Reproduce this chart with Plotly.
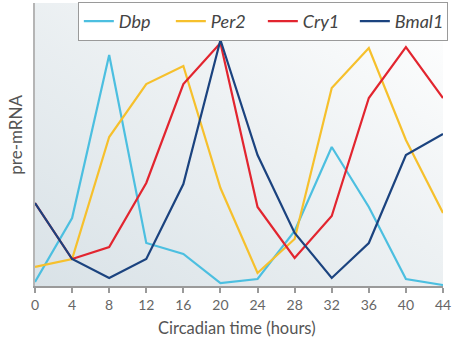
import plotly.graph_objects as go
import base64

hours = [0, 4, 8, 12, 16, 20, 24, 28, 32, 36, 40, 44]
tick_labels = [str(h) for h in hours]

dbp   = [4, 68, 231, 43, 32, 3, 7, 55, 139, 79, 7, 1]
per2  = [19, 27, 149, 202, 220, 98, 13, 47, 198, 238, 146, 73]
cry1  = [83, 27, 39, 103, 202, 243, 79, 28, 70, 188, 239, 188]
bmal1 = [83, 27, 8, 27, 102, 246, 131, 53, 8, 43, 131, 152]

series = [
    ("Dbp", dbp, "#4cbfe0"),
    ("Per2", per2, "#f6c02c"),
    ("Cry1", cry1, "#e2252f"),
    ("Bmal1", bmal1, "#1b437f"),
]

fig = go.Figure()
for name, vals, col in series:
    fig.add_trace(go.Scatter(
        x=hours, y=vals, mode="lines", name=f"<i>{name}</i>",
        line=dict(color=col, width=2.2),
    ))

svg = ('<svg xmlns="http://www.w3.org/2000/svg" width="400" height="300" preserveAspectRatio="none">'
       '<defs><linearGradient id="g" x1="0" y1="1" x2="1" y2="0">'
       '<stop offset="0" stop-color="#d9e2e7"/><stop offset="0.55" stop-color="#edf1f3"/>'
       '<stop offset="1" stop-color="#ffffff"/></linearGradient></defs>'
       '<rect width="400" height="300" fill="url(#g)"/></svg>')
src = "data:image/svg+xml;base64," + base64.b64encode(svg.encode()).decode()

fig.update_layout(
    width=454, height=338,
    margin=dict(l=35, r=11, t=3, b=52, autoexpand=False),
    paper_bgcolor="white",
    plot_bgcolor="rgba(0,0,0,0)",
    font=dict(family="Lato, Open Sans, sans-serif", color="#555555"),
    images=[dict(source=src, xref="paper", yref="paper", x=0, y=1,
                 sizex=1, sizey=1, sizing="stretch", layer="below",
                 xanchor="left", yanchor="top")],
    showlegend=True,
    legend=dict(
        orientation="h", x=0.105, y=1.004, xanchor="left", yanchor="top",
        bgcolor="white", bordercolor="#9a9a9a", borderwidth=1,
        font=dict(size=18, color="#444444"),
        entrywidth=47, entrywidthmode="pixels",
        itemwidth=30,
    ),
    xaxis=dict(
        range=[0, 44], tickvals=hours, ticktext=tick_labels,
        showgrid=False, zeroline=False, automargin=False,
        showline=True, linecolor="#9a9a9a", linewidth=1.5,
        ticks="outside", ticklen=5, tickcolor="#9a9a9a", tickwidth=1.5,
        tickfont=dict(size=14, color="#666666"),
    ),
    yaxis=dict(
        range=[0, 283], showticklabels=False, showgrid=False, zeroline=False,
        automargin=False,
        showline=True, linecolor="#b5b5b5", linewidth=1.5, ticks="",
    ),
    annotations=[
        dict(text="Circadian time (hours)", xref="paper", yref="paper",
             x=0.495, y=-0.147, xanchor="center", yanchor="middle", showarrow=False,
             font=dict(size=16.5, color="#555555")),
        dict(text="pre-mRNA", xref="paper", yref="paper",
             x=-0.047, y=0.534, xanchor="center", yanchor="middle", showarrow=False,
             textangle=-90, font=dict(size=17, color="#555555")),
    ],
)

fig.write_html("out.html", config={"displayModeBar": False},
               post_script="document.body.style.margin='0px';")
